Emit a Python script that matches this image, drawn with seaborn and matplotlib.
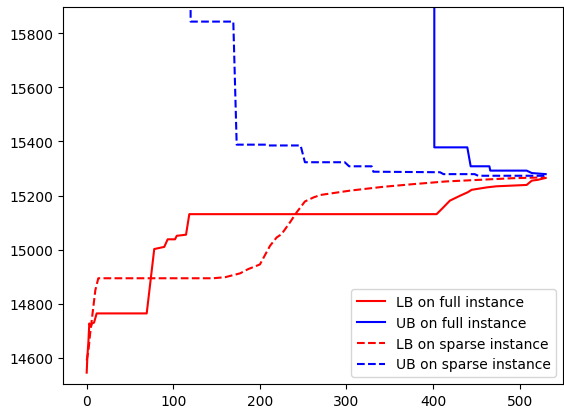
import matplotlib
matplotlib.use("Agg")
import matplotlib.pyplot as plt
import seaborn as sns
import pandas as pd

# LB on full instance
lb_full_x = [0, 0.8, 2, 3, 5, 6, 8.5, 11.5, 69.3, 78, 89.6, 93.5, 102, 104, 114.7, 118.5,
             404, 410, 419.4, 431, 440, 444.5, 462, 473, 508, 514, 521, 530]
lb_full_y = [14545, 14605, 14660, 14727, 14715, 14727, 14730, 14764, 14764, 15002, 15010,
             15038, 15038, 15051, 15055, 15131, 15131, 15150, 15181, 15199, 15212, 15221,
             15230, 15234, 15239, 15255, 15258, 15265]

# UB on full instance
ub_full_x = [401.4, 401.4, 439.5, 443.4, 465, 466, 508, 514, 530]
ub_full_y = [17000, 15378, 15378, 15308, 15308, 15292, 15292, 15283, 15279]

# LB on sparse instance
lb_sparse_x = [0, 2, 4, 7, 10, 13.4, 146, 160, 177, 186.6, 200, 211.7, 219.4, 225, 234.8,
               242.5, 252, 262, 270, 304, 342, 377, 415, 454, 492, 529]
lb_sparse_y = [14590, 14625, 14690, 14770, 14850, 14894, 14894, 14898, 14912, 14928, 14945,
               15014, 15045, 15057, 15101, 15138, 15178, 15193, 15202, 15218, 15232, 15242,
               15252, 15258, 15264, 15267]

# UB on sparse instance
ub_sparse_x = [120, 120, 169.3, 173.2, 208, 210, 247, 252, 298, 303, 329, 331, 408, 412,
               448, 452, 529]
ub_sparse_y = [16200, 15843, 15843, 15388, 15388, 15385, 15385, 15323, 15323, 15308, 15308,
               15288, 15286, 15279, 15279, 15273, 15273]

fig = plt.figure(figsize=(5.64, 4.10), dpi=100)
ax = fig.add_axes([62.7 / 564, 1 - 385 / 410, (563 - 62.7) / 564, (385 - 8) / 410])

series = [
    (lb_full_x, lb_full_y, "red", "-", "LB on full instance"),
    (ub_full_x, ub_full_y, "blue", "-", "UB on full instance"),
    (lb_sparse_x, lb_sparse_y, "red", "--", "LB on sparse instance"),
    (ub_sparse_x, ub_sparse_y, "blue", "--", "UB on sparse instance"),
]
for xs, ys, c, ls, lab in series:
    df = pd.DataFrame({"x": xs, "y": ys})
    sns.lineplot(data=df, x="x", y="y", ax=ax, color=c, linestyle=ls, label=lab,
                 estimator=None, sort=False, linewidth=1.5)

ax.set_xlim(-27.7, 550)
ax.set_ylim(14503, 15897)
ax.set_xlabel("")
ax.set_ylabel("")
ax.legend(loc="lower right")
fig.savefig("out.png", dpi=100)
